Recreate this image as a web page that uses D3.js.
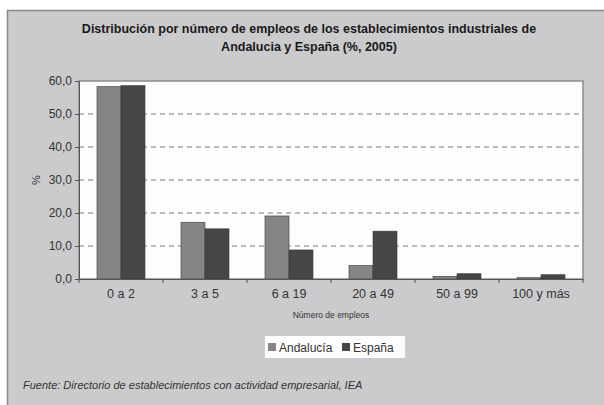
<!DOCTYPE html>
<html>
<head>
<meta charset="utf-8">
<script src="https://cdnjs.cloudflare.com/ajax/libs/d3/7.8.5/d3.min.js"></script>
<style>
  body { margin: 0; background: #fff; }
  svg { display: block; font-family: "Liberation Sans", Arial, sans-serif; }
</style>
</head>
<body>
<div id="chart"></div>
<script>
var categories = ["0 a 2", "3 a 5", "6 a 19", "20 a 49", "50 a 99", "100 y más"];
var series = ["Andalucía", "España"];
var andalucia = [58.3, 17.2, 19.1, 4.1, 0.8, 0.4];
var espana = [58.6, 15.2, 8.8, 14.5, 1.6, 1.3];
var yTicks = [0, 10, 20, 30, 40, 50, 60];
var colors = ["#858585", "#464646"];

var width = 604, height = 405;
var plot = {left: 79, top: 81, right: 583, bottom: 279};

var svg = d3.select("#chart")
    .append("svg")
    .attr("width", width)
    .attr("height", height);

// outer frame
svg.append("rect")
    .attr("x", 7.5).attr("y", 10.5)
    .attr("width", 610).attr("height", 410)
    .attr("fill", "#cbcbcd")
    .attr("stroke", "#8a8a8a")
    .attr("stroke-width", 1.5);

svg.append("text")
    .attr("x", 309).attr("y", 33)
    .attr("text-anchor", "middle")
    .attr("font-size", 12.5).attr("font-weight", "bold").attr("fill", "#1a1a1a")
    .text("Distribución por número de empleos de los establecimientos industriales de");
svg.append("text")
    .attr("x", 309).attr("y", 51)
    .attr("text-anchor", "middle")
    .attr("font-size", 12.5).attr("font-weight", "bold").attr("fill", "#1a1a1a")
    .text("Andalucia y España (%, 2005)");

var x = d3.scaleBand()
    .domain(categories)
    .range([plot.left, plot.right])
    .paddingInner(0)
    .paddingOuter(0);

var x1 = d3.scaleBand()
    .domain(series)
    .range([0, x.bandwidth()])
    .paddingInner(0)
    .paddingOuter(0.75);

var y = d3.scaleLinear()
    .domain([0, 60])
    .range([plot.bottom, plot.top]);

// plot area
svg.append("rect")
    .attr("x", plot.left).attr("y", plot.top)
    .attr("width", plot.right - plot.left)
    .attr("height", plot.bottom - plot.top)
    .attr("fill", "#fdfdfd")
    .attr("stroke", "#8c8c8c")
    .attr("stroke-width", 1.5);

// gridlines
svg.append("g")
    .selectAll("line")
    .data(yTicks.filter(function(d) { return d > 0 && d < 60; }))
    .enter()
    .append("line")
    .attr("x1", plot.left).attr("x2", plot.right)
    .attr("y1", function(d) { return y(d); })
    .attr("y2", function(d) { return y(d); })
    .attr("stroke", "#7a7a7a")
    .attr("stroke-width", 1.2)
    .attr("stroke-dasharray", "5,4");

// bars
var rows = categories.map(function(c, i) {
    return {cat: c, values: [andalucia[i], espana[i]]};
});

var groups = svg.append("g")
    .selectAll("g")
    .data(rows)
    .enter()
    .append("g")
    .attr("transform", function(d) { return "translate(" + x(d.cat) + ",0)"; });

groups.selectAll("rect")
    .data(function(d) { return d.values.map(function(v, j) { return {s: series[j], v: v, j: j}; }); })
    .enter()
    .append("rect")
    .attr("x", function(d) { return x1(d.s); })
    .attr("y", function(d) { return y(d.v); })
    .attr("width", x1.bandwidth())
    .attr("height", function(d) { return y(0) - y(d.v); })
    .attr("fill", function(d) { return colors[d.j]; })
    .attr("stroke", "#3a3a3a")
    .attr("stroke-width", 0.6);

// y axis
var yAxis = svg.append("g")
    .attr("transform", "translate(" + plot.left + ",0)")
    .call(d3.axisLeft(y).tickValues(yTicks).tickSize(4).tickPadding(3)
        .tickFormat(function(d) { return d3.format(".1f")(d).replace(".", ","); }));
yAxis.select(".domain").attr("stroke", "#555");
yAxis.selectAll(".tick line").attr("stroke", "#555");
yAxis.selectAll("text").attr("font-size", 12).attr("fill", "#333")
    .attr("font-family", "Liberation Sans, Arial, sans-serif");

// x axis
var xAxis = svg.append("g")
    .attr("transform", "translate(0," + plot.bottom + ")")
    .call(d3.axisBottom(x).tickSize(0).tickPadding(10));
xAxis.select(".domain").attr("stroke", "#555");
xAxis.selectAll("text").attr("font-size", 12.5).attr("fill", "#333")
    .attr("font-family", "Liberation Sans, Arial, sans-serif");
svg.append("g")
    .selectAll("line")
    .data(categories.concat(["end"]))
    .enter()
    .append("line")
    .attr("x1", function(d, i) { return plot.left + i * x.bandwidth(); })
    .attr("x2", function(d, i) { return plot.left + i * x.bandwidth(); })
    .attr("y1", plot.bottom).attr("y2", plot.bottom + 4)
    .attr("stroke", "#555");

// axis titles
svg.append("text")
    .attr("transform", "translate(40,180) rotate(-90)")
    .attr("text-anchor", "middle")
    .attr("font-size", 11).attr("fill", "#333")
    .text("%");
svg.append("text")
    .attr("x", 331).attr("y", 318)
    .attr("text-anchor", "middle")
    .attr("font-size", 8.5).attr("fill", "#333")
    .text("Número de empleos");

// legend
var legend = svg.append("g");
legend.append("rect")
    .attr("x", 265).attr("y", 336)
    .attr("width", 140).attr("height", 22)
    .attr("fill", "#fdfdfd");
var legendX = [268, 342];
series.forEach(function(s, i) {
    legend.append("rect")
        .attr("x", legendX[i]).attr("y", 343)
        .attr("width", 8).attr("height", 8)
        .attr("fill", colors[i]);
    legend.append("text")
        .attr("x", legendX[i] + 11).attr("y", 352)
        .attr("font-size", 12).attr("fill", "#333")
        .text(s);
});

// source
svg.append("text")
    .attr("x", 23).attr("y", 389)
    .attr("font-size", 11).attr("font-style", "italic").attr("fill", "#333")
    .text("Fuente: Directorio de establecimientos con actividad empresarial, IEA");
</script>
</body>
</html>
